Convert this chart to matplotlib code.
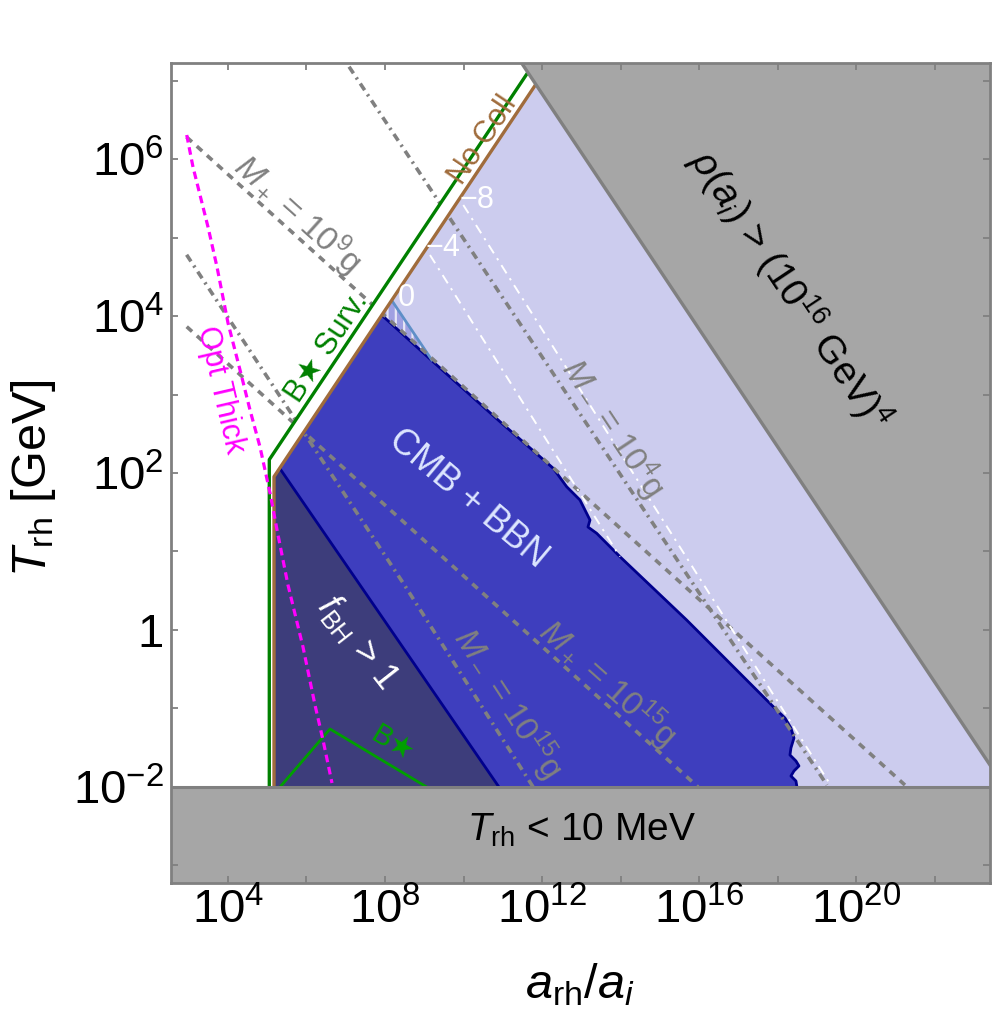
import numpy as np
import matplotlib
matplotlib.use('Agg')
import matplotlib.pyplot as plt
from matplotlib.patches import Polygon
from matplotlib.ticker import FixedLocator, FixedFormatter, NullLocator

plt.rcParams['font.family'] = ['Liberation Sans', 'DejaVu Sans']
plt.rcParams['mathtext.fontset'] = 'custom'
plt.rcParams['mathtext.rm'] = 'Liberation Sans'
plt.rcParams['mathtext.it'] = 'Liberation Sans:italic'
plt.rcParams['mathtext.bf'] = 'Liberation Sans:bold'
plt.rcParams['mathtext.sf'] = 'Liberation Sans'
plt.rcParams['hatch.linewidth'] = 1.6

# ---------------- data: log10(a_rh/a_i), log10(T_rh/GeV) -------------
xlim_log = (2.553, 23.40)
ylim_log = (-3.223, 7.223)
bbn_floor_log = -2.0            # T_rh = 10 MeV

rho_loga = [11.2, 23.8]          # rho(a_i) > (1e16 GeV)^4 boundary
rho_logT = [7.43, -2.02]

nocoll_loga = [5.175, 5.175, 12.1]
nocoll_logT = [-2.0, 1.953, 7.147]

surv_loga = [5.055, 5.055, 12.1]
surv_logT = [-2.0, 2.17, 7.45]

cmb_loga = [7.92, 9.222, 10.927, 12.283, 12.625, 12.963, 13.218, 13.167, 13.388, 13.981,
            15.679, 16.442, 17.883, 18.181, 18.333, 18.410, 18.333, 18.308, 18.461, 18.537,
            18.410, 18.333, 18.461, 18.486]
cmb_logT = [4.01, 3.418, 2.654, 2.060, 1.825, 1.656, 1.401, 1.312, 1.232, 0.934,
            0.127, -0.255, -0.977, -1.121, -1.248, -1.376, -1.503, -1.592, -1.669, -1.732,
            -1.796, -1.860, -1.924, -2.0]

fbh_loga = [5.32, 10.9]
fbh_logT = [2.06, -2.0]

hatch0_loga = [7.92, 8.17, 9.19]
hatch0_logT = [4.01, 4.20, 3.44]

optthick_loga = [2.953, 3.113, 3.495, 3.724, 4.004, 4.310, 4.564, 4.819, 5.073, 5.277,
                 5.531, 5.913, 6.218, 6.422, 6.651]
optthick_logT = [6.306, 5.898, 5.134, 4.624, 3.911, 3.312, 2.803, 2.331, 1.745, 1.210,
                 0.573, -0.217, -0.955, -1.401, -1.949]

bstar_loga = [5.328, 6.600, 9.061]
bstar_logT = [-2.0, -1.261, -2.0]

mplus9_loga = [2.95, 21.235]
mplus9_logT = [6.28, -1.975]
mminus4_loga = [6.8, 19.25]
mminus4_logT = [7.39, -1.975]
mplus15_loga = [2.953, 15.97]
mplus15_logT = [3.864, -2.0]
mminus15_loga = [2.95, 8.46, 11.77]
mminus15_logT = [4.78, 0.60, -2.0]

w8_loga = [9.993, 19.326]
w8_logT = [5.414, -1.962]
w4_loga = [9.145, 13.981]
w4_logT = [4.777, 0.934]

xtick_exp = list(range(4, 23, 2))
xlabel_exp = [4, 8, 12, 16, 20]
ytick_exp = list(range(-3, 8))
ylabel_exp = [-2, 0, 2, 4, 6]

# ---------------- styles ----------------
C_GRAY = '#A6A6A6'
C_EDGE = '#808080'
C_LAV = '#CCCCEE'
C_BLUE = '#3E3EBE'
C_FBH = '#3D3D7B'
C_NAVY = '#00008C'
C_GREEN = '#008000'
C_BROWN = '#A06C3C'
C_MAG = '#FF00FF'

W, H = 997, 1016
fig = plt.figure(figsize=(W / 100, H / 100), dpi=100)
ax = fig.add_axes([171 / W, 1 - 883 / H, 819 / W, 820 / H])
ax.set_xscale('log')
ax.set_yscale('log')
ax.set_xlim(10 ** xlim_log[0], 10 ** xlim_log[1])
ax.set_ylim(10 ** ylim_log[0], 10 ** ylim_log[1])
ax.set_facecolor('white')


def P(v):
    return np.power(10.0, np.asarray(v, dtype=float))


def poly(xs, ys, **kw):
    p = Polygon(np.column_stack([P(xs), P(ys)]), closed=True, **kw)
    ax.add_patch(p)
    return p


xr = xlim_log[1] + 1.0
yt = ylim_log[1] + 1.0

# lavender region (right of No Coll)
poly([nocoll_loga[0], nocoll_loga[1], nocoll_loga[2], nocoll_loga[2], xr, xr],
     [nocoll_logT[0], nocoll_logT[1], nocoll_logT[2], yt, yt, bbn_floor_log],
     facecolor=C_LAV, edgecolor='none', zorder=1)

# CMB + BBN region
bx = [nocoll_loga[0], nocoll_loga[1]] + cmb_loga
by = [nocoll_logT[0], nocoll_logT[1]] + cmb_logT
poly(bx, by, facecolor=C_BLUE, edgecolor='none', zorder=1.5)
ax.plot(P(cmb_loga), P(cmb_logT), color=C_NAVY, lw=2.0, zorder=1.8)

# f_BH > 1 region
poly([nocoll_loga[0], nocoll_loga[1]] + fbh_loga,
     [nocoll_logT[0], nocoll_logT[1]] + fbh_logT,
     facecolor=C_FBH, edgecolor='none', zorder=1.6)
ax.plot(P(fbh_loga), P(fbh_logT), color=C_NAVY, lw=2.0, zorder=1.8)

# hatched "0" sliver
poly(hatch0_loga, hatch0_logT, facecolor='#A0A0E2', edgecolor='none', zorder=1.7)
poly(hatch0_loga, hatch0_logT, facecolor='none', edgecolor='#E6E6F6', hatch='||',
     lw=0, zorder=1.71)
ax.plot(P(hatch0_loga[1:]), P(hatch0_logT[1:]), color='#5F8FC8', lw=2.0, zorder=1.9)

# contour lines
dash = (0, (2.0, 1.8))
dashdot = (0, (2.2, 1.4, 0.6, 1.4))
for xs, ys, ls in [(mplus9_loga, mplus9_logT, dash),
                   (mplus15_loga, mplus15_logT, dash),
                   (mminus4_loga, mminus4_logT, dashdot),
                   (mminus15_loga, mminus15_logT, dashdot)]:
    ax.plot(P(xs), P(ys), color=C_EDGE, lw=2.6, ls=ls, zorder=2)

wdd = (0, (5, 3, 1.2, 3))
ax.plot(P(w8_loga), P(w8_logT), color='white', lw=1.4, ls=wdd, zorder=2.1)
ax.plot(P(w4_loga), P(w4_logT), color='white', lw=1.4, ls=wdd, zorder=2.1)

# white strip between B* Surv and No Coll
poly(surv_loga + nocoll_loga[::-1], surv_logT + nocoll_logT[::-1],
     facecolor='white', edgecolor='none', zorder=3)

ax.plot(P(surv_loga), P(surv_logT), color=C_GREEN, lw=2.4, zorder=4)
ax.plot(P(nocoll_loga), P(nocoll_logT), color=C_BROWN, lw=2.4, zorder=4)
ax.plot(P(bstar_loga), P(bstar_logT), color='#00A000', lw=2.0, zorder=4)
ax.plot(P(optthick_loga), P(optthick_logT), color=C_MAG, lw=2.3, ls=(0, (2.4, 1.5)), zorder=4.5)

# gray excluded regions
poly([rho_loga[0], rho_loga[1], rho_loga[1]], [rho_logT[0], rho_logT[1], rho_logT[0]],
     facecolor=C_GRAY, edgecolor='none', zorder=5)
ax.plot(P(rho_loga), P(rho_logT), color=C_EDGE, lw=2.4, zorder=5.1)
ax.axhspan(10 ** (ylim_log[0] - 1), 10 ** bbn_floor_log, facecolor=C_GRAY, edgecolor='none', zorder=5)
ax.axhline(10 ** bbn_floor_log, color=C_EDGE, lw=2.2, zorder=5.1)

# ---------------- texts ----------------
def pxd(px, py):
    return 10 ** (8 + (px - 385) / 39.29), 10 ** (-2 + (787 - py) / 78.5)


def lab(px, py, s, rot, color, size, **kw):
    x, y = pxd(px, py)
    ax.text(x, y, s, rotation=rot, rotation_mode='anchor', ha='center', va='center',
            color=color, fontsize=size, zorder=6, **kw)


lab(298, 214, r'$M_+$ = 10$^9$g', -42, C_EDGE, 24)
lab(613, 428, r'$M_-$ = 10$^4$g', -56.4, C_EDGE, 24)
lab(608, 683, r'$M_+$ = 10$^{15}$g', -41.8, C_EDGE, 24)
lab(508, 703, r'$M_-$ = 10$^{15}$g', -57, C_EDGE, 24)
lab(327, 347, 'B\u2605 Surv.', 56.3, C_GREEN, 22)
lab(483, 140, 'No Coll', 56.3, C_BROWN, 22)
lab(220, 390, 'Opt Thick', -77, C_MAG, 22)
lab(468, 499, 'CMB + BBN', -40, '#DDE6FF', 26)
lab(358, 642, r'$f_{\mathrm{BH}}$ > 1', -52, 'white', 26)
lab(392, 745, 'B\u2605', -31, '#00A000', 21)
lab(790, 290, r'$\rho(a_i)$ > (10$^{16}$ GeV)$^4$', -56.3, 'black', 28)
lab(582, 830, r'$T_{\mathrm{rh}}$ < 10 MeV', 0, 'black', 28)
lab(477, 200, '\u22128', 0, 'white', 22)
lab(443, 248, '\u22124', 0, 'white', 22)
lab(406, 298, '0', 0, 'white', 22)

# ---------------- axes styling ----------------
def exp_label(e):
    if e == 0:
        return '1'
    return r'$10^{%d}$' % e


ax.xaxis.set_major_locator(FixedLocator([10.0 ** e for e in xtick_exp]))
ax.xaxis.set_major_formatter(FixedFormatter([exp_label(e) if e in xlabel_exp else '' for e in xtick_exp]))
ax.yaxis.set_major_locator(FixedLocator([10.0 ** e for e in ytick_exp]))
ax.yaxis.set_major_formatter(FixedFormatter([exp_label(e) if e in ylabel_exp else '' for e in ytick_exp]))
ax.xaxis.set_minor_locator(NullLocator())
ax.yaxis.set_minor_locator(NullLocator())
ax.tick_params(which='major', direction='in', top=True, right=True, length=5, width=1.3,
               color=C_EDGE, labelsize=34, labelcolor='black')
ax.tick_params(axis='x', pad=4)
ax.tick_params(axis='y', pad=5)
for sp in ax.spines.values():
    sp.set_color(C_EDGE)
    sp.set_linewidth(2.0)
    sp.set_zorder(10)
ax.xaxis.set_zorder(10)
ax.yaxis.set_zorder(10)

fig.text(580 / W, 1 - 985 / H, r'$a_{\mathrm{rh}}/a_i$', ha='center', va='center', fontsize=35)
fig.text(33 / W, 1 - 478 / H, r'$T_{\mathrm{rh}}$ [GeV]', ha='center', va='center',
         rotation=90, fontsize=35)

fig.savefig('out.png', dpi=100)
